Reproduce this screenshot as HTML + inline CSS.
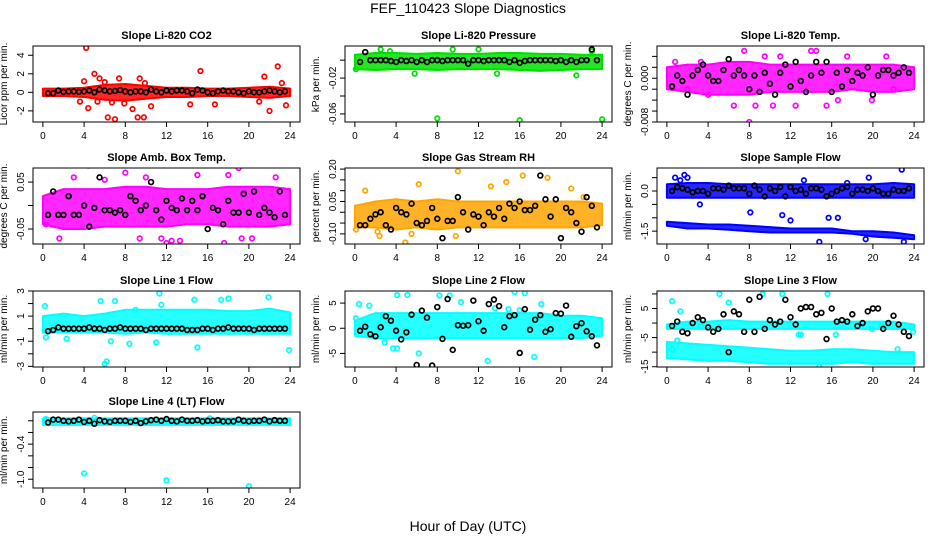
<!DOCTYPE html>
<html><head><meta charset="utf-8">
<style>
html,body{margin:0;padding:0;background:#fff;}
svg{display:block;font-family:"Liberation Sans",Arial,sans-serif;}
</style></head>
<body>
<svg id="chart" width="936" height="540" viewBox="0 0 936 540">
<text x="468" y="13" text-anchor="middle" font-size="14">FEF_110423  Slope Diagnostics</text>
<text x="468" y="531" text-anchor="middle" font-size="14">Hour of Day (UTC)</text>
</svg>
<script>
const xTicks = [0,4,8,12,16,20,24];
const bandHours = [0,2,4,6,8,10,12,14,16,18,20,22,24];
const blackHours = [0.5,1,1.5,2,2.5,3,3.5,4,4.5,5,5.5,6,6.5,7,7.5,8,8.5,9,9.5,10,10.5,11,11.5,12,12.5,13,13.5,14,14.5,15,15.5,16,16.5,17,17.5,18,18.5,19,19.5,20,20.5,21,21.5,22,22.5,23,23.5];

const titles = ["Slope Li-820 CO2","Slope Li-820 Pressure","Slope Li-820 Temp.","Slope Amb. Box Temp.","Slope Gas Stream RH","Slope Sample Flow","Slope Line 1 Flow","Slope Line 2 Flow","Slope Line 3 Flow","Slope Line 4 (LT) Flow"];
const yTitles = ["Licor ppm per min.","kPa per min.","degrees C per min.","degrees C per min.","percent per min.","ml/min per min.","ml/min per min.","ml/min per min.","ml/min per min.","ml/min per min."];
const colors = ["#ff0000","#00e000","#ff00ff","#ff00ff","#ffa500","#0000ff","#00ffff","#00ffff","#00ffff","#00ffff"];
const yMins = [-3.2,-0.069,-0.008,-0.082,-0.147,-1.98,-3.05,-7.7,-15.1,-1.15];
const yMaxs = [5.0,0.0158,0.0059,0.08,0.205,0.86,3.0,7.4,11,0.15];
const yTickVals = [[-2,0,2,4],[-0.06,-0.04,-0.02,0],[-0.008,-0.006,-0.004,-0.002,0,0.002,0.004],[-0.05,0,0.05],[-0.10,-0.05,0,0.05,0.10,0.15,0.20],[-1.5,-1.0,-0.5,0,0.5],[-3,-2,-1,0,1,2,3],[-5,0,5],[-15,-10,-5,0,5,10],[-1.0,-0.8,-0.6,-0.4,-0.2,0]];
const yTickLabels = [["-2","0","2","4"],["-0.06","","-0.02",""],["-0.008","","","","0.000","",""],["-0.05","","0.05"],["-0.10","","","0.05","","","0.20"],["-1.5","","","0.0",""],["-3","","-1","","1","","3"],["-5","0","5"],["-15","","-5","","5",""],["-1.0","","","-0.4","",""]];

const band1Lo = [[-0.4,-0.4,-0.5,-0.8,-0.9,-0.7,-0.5,-0.5,-0.4,-0.4,-0.5,-0.6,-0.4],[-0.01,-0.011,-0.01,-0.01,-0.011,-0.01,-0.01,-0.01,-0.011,-0.012,-0.011,-0.01,-0.01],[-0.002,-0.0025,-0.003,-0.003,-0.003,-0.0025,-0.0025,-0.0025,-0.0025,-0.002,-0.0025,-0.0025,-0.002],[-0.04,-0.05,-0.05,-0.045,-0.045,-0.045,-0.045,-0.04,-0.04,-0.045,-0.045,-0.045,-0.04],[-0.07,-0.07,-0.08,-0.07,-0.08,-0.07,-0.07,-0.07,-0.07,-0.07,-0.07,-0.07,-0.06],[-0.25,-0.25,-0.25,-0.25,-0.25,-0.25,-0.25,-0.25,-0.25,-0.25,-0.25,-0.25,-0.25],[-0.3,-0.3,-0.3,-0.3,-0.4,-0.3,-0.4,-0.4,-0.4,-0.4,-0.4,-0.4,-0.4],[-1.5,-2,-2,-2,-2,-2,-2,-2,-2,-2,-2,-2,-1.5],[-2,-2,-2,-2,-2,-2,-2,-2,-2,-2,-2,-2,-2],[-0.07,-0.07,-0.07,-0.07,-0.07,-0.07,-0.07,-0.07,-0.07,-0.07,-0.07,-0.07,-0.07]];
const band1Hi = [[0.4,0.4,0.5,0.8,0.9,0.7,0.5,0.5,0.4,0.4,0.5,0.6,0.4],[0.006,0.008,0.008,0.007,0.008,0.007,0.007,0.008,0.008,0.007,0.007,0.006,0.006],[0.002,0.0025,0.0025,0.003,0.003,0.0025,0.0025,0.0025,0.0025,0.0025,0.0025,0.0025,0.002],[0.02,0.035,0.035,0.035,0.04,0.04,0.035,0.035,0.035,0.04,0.04,0.04,0.035],[0.03,0.05,0.06,0.05,0.06,0.05,0.05,0.05,0.05,0.05,0.05,0.05,0.04],[0.25,0.3,0.3,0.25,0.25,0.25,0.25,0.25,0.25,0.25,0.25,0.3,0.25],[1.0,1.2,1.0,1.2,1.5,1.5,1.5,1.5,1.5,1.4,1.4,1.6,1.3],[1.5,3,3,3,3,3,3,3,3,3,2.5,2.5,2],[-0.5,0.5,0.5,1,0.5,0.5,0.5,0.5,0.5,0.5,0.5,0.5,-0.5],[0.04,0.04,0.04,0.04,0.04,0.04,0.04,0.04,0.04,0.04,0.04,0.04,0.04]];
const band2Lo = {5:[-1.3,-1.4,-1.4,-1.45,-1.5,-1.55,-1.55,-1.55,-1.55,-1.6,-1.7,-1.75,-1.8], 8:[-12,-12.5,-13,-13,-13.5,-14,-14,-14,-14,-13.5,-14,-14,-14]};
const band2Hi = {5:[-1.15,-1.2,-1.25,-1.25,-1.3,-1.35,-1.4,-1.4,-1.4,-1.5,-1.5,-1.55,-1.65], 8:[-6.5,-7,-7.5,-8,-8.5,-9,-9.5,-9.5,-9,-9,-9.5,-10,-10]};

const outX = [
[4.2,4,4.4,3.6,5,5.5,6.3,7,7.4,7.9,8.7,9.2,9.8,9.4,9.9,10.5,15.3,16.7,14.3,21.5,22,22.8,23.2,23.6,21,6,5.3,6.7],
[8,16,24,2.5,12,5.8,0.1,3.4,9.5,21.5,23,13.8],
[8,2,4,6.5,7.5,8.6,10.3,11,14,15.5,16.6,17.5,19.9,21.3,22,0.8,3.3,12.5,14.5,9.5],
[0.8,4.4,8,13.3,17.6,19,0.3,1.6,12,12.5,18,19.3,20.3,9.4,11.5,3,6,22.6,15,10],
[4.9,10,13.2,14.7,16.3,18.7,2.4,1,9.8,21,5.5,22.2,0.1,2.2,6.2],
[0.8,1.7,1.3,2,3.2,8.1,14.8,19.6,22.8,23,15.7,11.2,12,13.3,16.6,17.5,19.3],
[6,6.2,11.3,14.7,21.9,15,23.9,0.3,2.3,6.6,11,11.5,7,8.4,9,17.3,18,0.2,5.6],
[4.1,5.1,15.5,16.5,0.4,1.4,6.2,12.9,17.4,3.7,4.1,9.2,8.2,10.3,13.6,14.9,16,18.1,2.9,0.1],
[5.1,9.3,11.2,15.6,0.5,1.3,13,19.9,16.4,20.8,3.3,1,0.5,14.8,23.9,6,22.4,12.8],
[4,12,20,5,0.3,16.2]
];
const outY = [
[4.8,1.2,-1.7,-1,2,1.5,-2.7,-2.9,1.5,-1.2,-1.8,-2.7,-2.7,1.5,1,-1.5,2.3,-1.3,-1.3,1.7,-2,2.8,1,-1.4,-1,1.1,-1,-1.1],
[-0.065,-0.067,-0.066,0.012,0.012,-0.015,-0.01,0.01,0.012,-0.017,0.01,-0.015],
[-0.008,-0.002,-0.003,-0.005,0.005,-0.005,-0.005,0.004,0.005,-0.005,-0.004,0.004,-0.004,0.004,-0.002,0.003,0.003,-0.005,0.005,0.004],
[-0.09,0.085,0.07,-0.075,-0.08,0.08,-0.04,-0.07,-0.08,-0.075,0.065,-0.07,-0.07,-0.07,-0.07,0.06,0.055,0.06,0.065,0.06],
[-0.14,0.19,0.12,0.14,0.17,0.16,-0.11,0.1,-0.11,0.11,-0.1,0.07,-0.08,-0.09,0.13],
[0.5,0.6,0.4,0.5,-0.5,-0.8,-1.9,0.5,0.8,-1.9,-1.0,-0.9,-1.1,0.4,-1.0,0.3,-1.8],
[-2.8,-2.6,2.8,2.3,2.5,-1.5,-1.7,-0.7,-0.8,-1,-1.1,1.9,2.2,-1.2,1.5,2.3,2.4,1.8,2.2],
[6.6,6.6,7.2,7,4.8,4.5,-5,-6.5,-5.7,-4,-4,6.5,6.5,5.2,4,3.8,3.6,4.8,-2.8,2],
[10,10,10,10,7.5,4,-4,-2,-4,-1,-1,-6,-9,-15,-3,7,-9,-4],
[-0.9,-1.02,-1.12,0.05,0.03,0.04]
];

const blackVals = [
[-0.1,-0.1,0.2,0.05,0.1,0.1,0.05,0.1,0.2,0.0,0.3,0.2,0.1,0.15,0.25,0.1,0.0,0.1,0.1,0.0,0.3,0.1,0.0,0.2,0.1,0.2,0.2,0.1,-0.1,0.3,0.2,0.0,-0.1,0.1,0.2,0.1,0.1,0.0,-0.1,0.1,0.0,0.0,0.1,0.2,0.1,0.0,0.1],
[-0.002,0.009,0,0,0,0,-0.001,-0.002,0,-0.001,0,-0.002,0,-0.002,0,0,-0.001,0,0,0,0,-0.004,0,0,-0.001,0,0,0,0,-0.002,0,-0.003,-0.001,0,0,0,0,0,-0.001,0,-0.002,0,-0.002,0,0,0.012,0],
[-0.0015,0.0005,-0.0005,-0.003,0.0005,0.0015,0.0025,0.0005,-0.0005,-0.0005,0.0015,0.0035,0.0005,0.0015,0.0005,-0.002,0.0005,-0.0025,0.001,-0.001,-0.003,0.001,0.0025,-0.0015,0.003,-0.0005,-0.0025,0.0005,0.003,0.001,0.003,-0.0025,0.001,-0.0015,0.0015,-0.0005,0.001,0.0005,0.002,-0.003,0.0005,0.0015,0.0015,0.0005,0.001,0.002,0.001],
[-0.02,0.03,-0.02,-0.02,0.02,-0.02,-0.02,0.0,-0.045,-0.005,0.06,-0.01,-0.01,-0.015,-0.01,-0.02,0.02,0.01,-0.01,0.0,0.05,-0.01,-0.03,0.01,-0.005,-0.01,0.015,-0.01,0.01,-0.01,0.02,-0.05,-0.005,-0.01,-0.04,0.01,-0.015,-0.015,0.025,-0.015,0.03,-0.02,-0.005,-0.015,-0.025,0.03,-0.02],
[-0.06,-0.06,-0.03,-0.01,0.0,-0.06,-0.08,0.02,0.0,-0.01,0.04,-0.05,-0.06,-0.04,0.02,-0.03,-0.12,-0.04,-0.04,0.07,0.0,-0.08,-0.01,-0.02,-0.06,0.0,-0.02,0.02,-0.03,0.04,0.02,0.05,0.01,0.01,0.03,0.17,0.06,-0.02,0.06,-0.12,0.02,0.0,-0.05,-0.09,0.07,0.03,-0.07],
[0,0.15,0.1,0.05,-0.05,0.0,0.0,-0.1,0.1,0.1,0.05,0.2,0.1,0.1,0.1,-0.1,0.2,0.05,-0.2,0.1,0.0,0.15,-0.2,0.15,0.0,0.05,-0.1,0.1,0.1,0.05,-0.2,-0.1,0.0,0.1,0.15,-0.1,0.05,0.05,0.0,0.1,0.0,-0.1,-0.1,0.05,0.0,0.0,0.1],
[-0.2,-0.1,0.1,0,0,0,0,0,0.1,0,0,-0.1,0,0,0.1,0,0,0,0,-0.1,0,0,0,0,0,0,0,-0.1,-0.1,-0.1,0,0,-0.1,0,0,0.1,0,0,0,0,-0.1,0,0,0,0,0,0],
[-0.5,0.3,-1.2,-1.6,0.2,2.4,1.5,-0.5,-2.2,-0.8,2.7,-7.3,3.5,2.1,-7.4,4.2,-2.1,5.8,-4.3,0.6,0.5,0.6,5.5,1.4,-0.5,4.8,5.7,4.4,0.2,2.4,2.6,-4.9,3.8,-0.3,1.7,2.6,-0.7,-0.2,3.0,2.9,4.5,-1.7,0.4,1.0,-0.6,-1.6,-3.4],
[-1,0.5,-3,-3.5,0,2,1,-1.5,-3,-2,3,-10,4,3,-3,8,-3,9,-2,1,-0.5,0.5,8,2,-0.5,5,5.5,5.5,3,3.5,-5.5,5,0.5,1,0.5,3,-1,0,4,5,5,-2,0,2.5,-0.5,-3,-4.5],
[-0.03,0.02,0.02,0,-0.01,0,0.02,-0.02,0,-0.05,0.01,-0.01,-0.02,0,0,0,-0.02,0,-0.04,-0.01,0.01,0.02,0,0.03,0,-0.01,0.02,0,0,0.01,-0.01,0,0,0.01,-0.01,-0.01,-0.01,0.02,0,-0.01,0,0,0.02,-0.01,0.01,0,0]
];

const NS = "http://www.w3.org/2000/svg";
const svg = document.getElementById("chart");
const colLeft = [33,345,657], rowTop = [46,168,291,412], PW = 267, PH = 76;
function mk(tag, attrs, parent){ const e=document.createElementNS(NS,tag); for(const k in attrs) e.setAttribute(k,attrs[k]); (parent||svg).appendChild(e); return e; }

titles.forEach((title, p) => {
  const L = colLeft[p%3], T = rowTop[Math.floor(p/3)];
  const xs = h => L + (h + 0.96) / 25.92 * PW;
  const ys = v => T + PH - (v - yMins[p]) / (yMaxs[p] - yMins[p]) * PH;
  const g = mk("g", {});
  
  
  const clip = mk("clipPath", {id:"c"+p}, g);
  mk("rect", {x:L, y:T, width:PW, height:PH}, clip);
  const t = mk("text", {x:L+PW/2, y:T-7, "text-anchor":"middle", "font-size":"11", "font-weight":"bold"}, g);
  t.textContent = title;
  
  
  const yt = mk("text", {transform:`translate(${L-26},${T+PH/2}) rotate(-90)`, "text-anchor":"middle", "font-size":"10"}, g);
  yt.textContent = yTitles[p];
  
  
  const pg = mk("g", {"clip-path":`url(#c${p})`}, g);
  const drawBand = (lo, hi) => {
    let d = bandHours.map((h,i)=>(i?"L":"M")+xs(h).toFixed(1)+","+ys(hi[i]).toFixed(1)).join("");
    for(let i=bandHours.length-1;i>=0;i--) d += "L"+xs(bandHours[i]).toFixed(1)+","+ys(lo[i]).toFixed(1);
    const b = mk("path", {d:d+"Z", fill:colors[p], stroke:colors[p], "stroke-width":"2", "stroke-linejoin":"round", "fill-opacity":"0.85"}, pg);
    
    
  };
  drawBand(band1Lo[p], band1Hi[p]);
  if (band2Lo[p]) drawBand(band2Lo[p], band2Hi[p]);
  outX[p].forEach((h,i) => {
    const c = mk("circle", {cx:xs(h), cy:ys(outY[p][i]), r:2.3, fill:"none", stroke:colors[p], "stroke-width":"1.7"}, pg);
    
    
  });
  blackVals[p].forEach((v,i) => {
    const c = mk("circle", {cx:xs(blackHours[i]), cy:ys(v), r:2.4, fill:"none", stroke:"#000", "stroke-width":"1.7"}, pg);
    
    
  });
  mk("rect", {x:L, y:T, width:PW, height:PH, fill:"none", stroke:"#000", "stroke-width":"1"}, g);
  const xa = mk("g", {}, g);
  
  
  mk("line", {x1:xs(xTicks[0]), x2:xs(xTicks[xTicks.length-1]), y1:T+PH, y2:T+PH, stroke:"#000"}, xa);
  xTicks.forEach(h => {
    mk("line", {x1:xs(h), x2:xs(h), y1:T+PH, y2:T+PH+5, stroke:"#000"}, xa);
    const tl = mk("text", {x:xs(h), y:T+PH+17, "text-anchor":"middle", "font-size":"10"}, xa);
    tl.textContent = h;
  });
  const ya = mk("g", {}, g);
  
  
  const tv = yTickVals[p];
  mk("line", {x1:L, x2:L, y1:ys(tv[0]), y2:ys(tv[tv.length-1]), stroke:"#000"}, ya);
  tv.forEach((v,i) => {
    mk("line", {x1:L-5, x2:L, y1:ys(v), y2:ys(v), stroke:"#000"}, ya);
    if (yTickLabels[p][i]) {
      const tl = mk("text", {transform:`translate(${L-9},${ys(v)}) rotate(-90)`, "text-anchor":"middle", "font-size":"10"}, ya);
      tl.textContent = yTickLabels[p][i];
    }
  });
});
</script>
</body></html>
